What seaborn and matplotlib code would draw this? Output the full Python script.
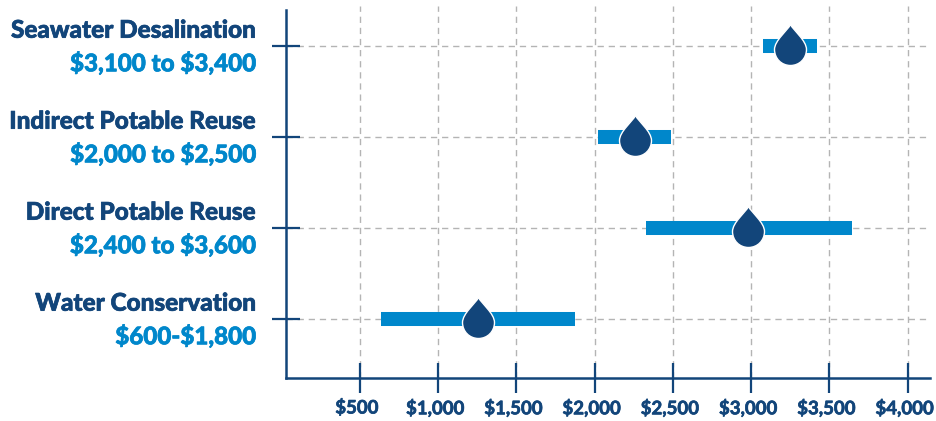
import pandas as pd
import seaborn as sns
import matplotlib.pyplot as plt
import matplotlib.patheffects as pe
from matplotlib.path import Path
from matplotlib.transforms import ScaledTranslation

categories = ["Water Conservation", "Direct Potable Reuse", "Indirect Potable Reuse", "Seawater Desalination"]
range_labels = [r"\$600-\$1,800", r"\$2,400 to \$3,600", r"\$2,000 to \$2,500", r"\$3,100 to \$3,400"]
bar_low = [634, 2328, 2021, 3075]
bar_high = [1874, 3645, 2488, 3420]
drop_value = [1254, 2982, 2258, 3248]
x_ticks = [500, 1000, 1500, 2000, 2500, 3000, 3500, 4000]
x_tick_labels = [r"\$500", r"\$1,000", r"\$1,500", r"\$2,000", r"\$2,500", r"\$3,000", r"\$3,500", r"\$4,000"]

NAVY = "#12457a"
BLUE = "#0087cb"
GRID = "#b4b4b4"

sns.set_theme(style="white")
plt.rcParams["font.family"] = ["Lato", "DejaVu Sans"]

# water drop, tip up, the row sits a little above the centre of the round part
drop = Path(
    [(0, 22), (3, 16), (16, 6), (16, -3), (16, -12), (9, -19), (0, -19),
     (-9, -19), (-16, -12), (-16, -3), (-16, 6), (-3, 16), (0, 22), (0, 22)],
    [Path.MOVETO] + [Path.CURVE4] * 12 + [Path.CLOSEPOLY],
)

rows = list(range(len(categories)))
bars = pd.DataFrame({
    "category": categories * 2,
    "row": rows * 2,
    "value": bar_low + bar_high,
})
drops = pd.DataFrame({"row": rows, "value": drop_value})

fig = plt.figure(figsize=(9.36, 4.21), dpi=100)
ax = fig.add_axes([285.5 / 936, 1 - 377.7 / 421, (930 - 285.5) / 936, (377.7 - 6) / 421])

sns.lineplot(data=bars, x="value", y="row", units="category", estimator=None,
             color=BLUE, linewidth=10.1, solid_capstyle="butt", legend=False, ax=ax, zorder=3)
sns.scatterplot(data=drops, x="value", y="row", marker=drop, s=1003, color=NAVY,
                edgecolor="white", linewidth=1, legend=False, ax=ax, zorder=4)

ax.set_xlim(24, 4143)
ax.set_ylim(-0.645, 3.44)
ax.set_xticks(x_ticks, x_tick_labels)
ax.set_yticks(rows, [""] * len(rows))
ax.set_xlabel("")
ax.set_ylabel("")

ax.grid(True, color=GRID, linestyle=(0, (4.5, 3.5)), linewidth=1)
ax.set_axisbelow(True)
ax.tick_params(axis="x", direction="inout", length=21, width=1.6, color=NAVY, pad=4.5,
               labelcolor=NAVY, labelsize=13.4, bottom=True)
ax.tick_params(axis="y", direction="inout", length=20, width=1.6, color=NAVY, left=True)

# Lato bold is a bit light next to the original, a thin stroke thickens it
thicken_navy = [pe.withStroke(linewidth=0.5, foreground=NAVY)]
thicken_blue = [pe.withStroke(linewidth=0.5, foreground=BLUE)]
for label in ax.get_xticklabels():
    label.set_fontweight("bold")
    label.set_path_effects(thicken_navy)
    # labels sit slightly left of their ticks, this also keeps the last one in the figure
    label.set_transform(label.get_transform() + ScaledTranslation(-3 / 100, 0, fig.dpi_scale_trans))

sns.despine(ax=ax)
ax.spines["left"].set_color(NAVY)
ax.spines["bottom"].set_color(NAVY)
ax.spines["left"].set_linewidth(1.8)
ax.spines["bottom"].set_linewidth(1.8)
ax.spines["left"].set_bounds(-0.645, 3.396)

# two coloured row labels, right aligned left of the axis
for row, name, rng in zip(rows, categories, range_labels):
    ax.annotate(name, xy=(0, row), xycoords=ax.get_yaxis_transform(), xytext=(-21.5, 11.4),
                textcoords="offset points", ha="right", va="center",
                color=NAVY, fontsize=17.5, fontweight="black", path_effects=thicken_navy)
    ax.annotate(rng, xy=(0, row), xycoords=ax.get_yaxis_transform(), xytext=(-21.5, -12.2),
                textcoords="offset points", ha="right", va="center",
                color=BLUE, fontsize=17.4, fontweight="black", path_effects=thicken_blue)

fig.savefig("out.png", dpi=100)
